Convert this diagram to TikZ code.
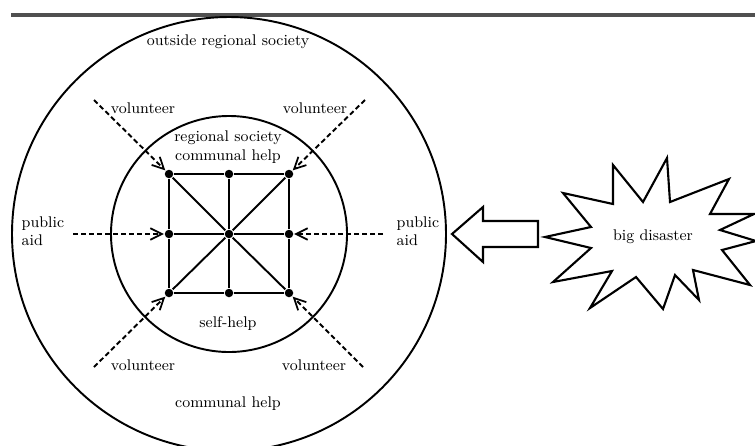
\documentclass[tikz,border=0pt]{standalone}
\usetikzlibrary{arrows.meta, positioning}
\definecolor{bargray}{HTML}{505050}

\begin{document}
\begin{tikzpicture}[x=0.2mm, y=-0.2mm, line width=1.1pt,
    dot/.style={circle, fill=black, inner sep=0pt, minimum size=1.7mm},
    aid/.style={dash pattern=on 1mm off 0.6mm, -{Straight Barb[length=2.3mm, width=2.3mm, line width=1pt]}},
    lbl/.style={font=\fontsize{8.8}{10.5}\selectfont, inner sep=1pt}]
    \useasboundingbox (0,0) rectangle (755,445);

    % top rule
    \draw[bargray, line width=0.8mm] (11,14.5) -- (755,14.5);

    % circles
    \coordinate (centre) at (229,234);
    \draw (centre) circle[radius=217];
    \draw (centre) circle[radius=118];

    % network of self-help
    \node[dot] (tl) at (169,174) {};
    \node[dot] (tm) at (229,174) {};
    \node[dot] (tr) at (289,174) {};
    \node[dot] (ml) at (169,234) {};
    \node[dot] (mm) at (229,234) {};
    \node[dot] (mr) at (289,234) {};
    \node[dot] (bl) at (169,293) {};
    \node[dot] (bm) at (229,293) {};
    \node[dot] (br) at (289,293) {};
    \draw (tl) -- (tm) -- (tr) -- (mr) -- (br) -- (bm) -- (bl) -- (ml) -- (tl);
    \draw (tm) -- (mm) -- (bm);
    \draw (ml) -- (mm) -- (mr);
    \draw (tl) -- (mm) -- (br);
    \draw (tr) -- (mm) -- (bl);

    % help from outside
    \coordinate (vtl) at (94,100);
    \coordinate (vtr) at (365,100);
    \coordinate (vbl) at (94,367);
    \coordinate (vbr) at (363,367);
    \coordinate (pl) at (73,234);
    \coordinate (pr) at (383,234);
    \draw[aid] (vtl) -- (tl);
    \draw[aid] (vtr) -- (tr);
    \draw[aid] (vbl) -- (bl);
    \draw[aid] (vbr) -- (br);
    \draw[aid] (pl) -- (ml);
    \draw[aid] (pr) -- (mr);

    % labels
    \node[lbl] (outer) at (228,42) {outside regional society};
    \node[lbl, align=center] (region) at (228,147) {regional society\\communal help};
    \node[lbl] (self) at (228,324) {self-help};
    \node[lbl] (communal) at (228,404) {communal help};
    \node[lbl] (vol1) at (143,108) {volunteer};
    \node[lbl] (vol2) at (315,108) {volunteer};
    \node[lbl] (vol3) at (143,365) {volunteer};
    \node[lbl] (vol4) at (314,365) {volunteer};
    \node[lbl, anchor=west, align=left] (publ) at (19,231) {public\\aid};
    \node[lbl, anchor=west, align=left] (pubr) at (394,231) {public\\aid};

    % block arrow
    \draw[line width=1.2pt, line join=miter] (452,234) -- (483,207) -- (483,221) -- (538,221)
        -- (538,247) -- (483,247) -- (483,262) -- cycle;

    % big disaster
    \draw[line width=1.2pt, line join=miter] (545,237) -- (591,227) -- (563,193) -- (613,204)
        -- (613,165) -- (643,202) -- (667,158) -- (670,202) -- (729,179) -- (710,214)
        -- (754,214) -- (720,230) -- (756,241) -- (722,250) -- (750,285) -- (693,270)
        -- (699,300) -- (675,275) -- (663,309) -- (636,277) -- (590,308) -- (612,271)
        -- (553,282) -- (591,248) -- cycle;
    \node[lbl] (disaster) at (653,237) {big disaster};
\end{tikzpicture}
\end{document}
